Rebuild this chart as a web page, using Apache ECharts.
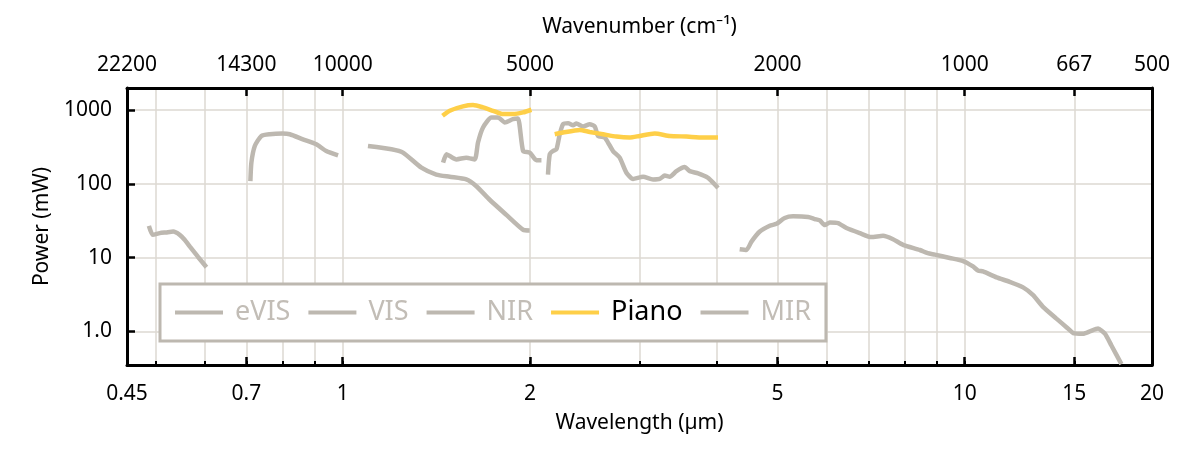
<!DOCTYPE html>
<html>
<head>
<meta charset="utf-8">
<script src="https://cdn.jsdelivr.net/npm/echarts@6/dist/echarts.min.js"></script>
<style>html,body{margin:0;padding:0;background:#fff;}#chart{width:1200px;height:450px;}</style>
</head>
<body>
<div id="chart"></div>
<script>
// ---- tick definitions ----
const wavelengthTicks = [0.45, 0.7, 1, 2, 5, 10, 15, 20];
const wavelengthLabels = ['0.45', '0.7', '1', '2', '5', '10', '15', '20'];
const wavenumberLabels = ['22200', '14300', '10000', '5000', '2000', '1000', '667', '500'];
const majorTicks = [0.7, 1, 2, 5, 10, 15];
const minorTicks = [0.5, 0.6, 0.7, 0.8, 0.9, 1, 2, 3, 4, 5, 6, 7, 8, 9, 10, 15];
const powerTicks = [1, 10, 100, 1000];
const powerLabels = ['1.0', '10', '100', '1000'];

// ---- data: [wavelength (µm), power (mW)] ----
const eVIS = [[0.488,27],[0.495,20.4],[0.508,21.5],[0.52,22],[0.534,22.6],[0.547,20.4],[0.557,17.5],[0.568,14.1],[0.585,10.3],[0.604,7.4]];
const VIS = [[0.7105,109],[0.7131,194],[0.7222,327],[0.740,448],[0.763,472],[0.80,482],[0.822,472],[0.863,403],[0.907,345],[0.941,279],[0.983,244]];
const NIR = [[1.098,327],[1.198,295],[1.25,266],[1.338,166],[1.414,134],[1.486,125],[1.58,115],[1.64,93],[1.723,61],[1.833,38],[1.95,23.9],[1.998,23.4]];
const NIRidler = [[1.450,194],[1.468,252],[1.486,239],[1.523,215],[1.580,227],[1.630,215],[1.650,364],[1.681,583],[1.734,797],[1.777,797],[1.822,682],[1.878,756],[1.913,773],[1.950,279],[1.998,266],[2.048,210],[2.087,210]];
const MIRsignal = [[2.138,134],[2.152,252],[2.178,279],[2.206,295],[2.233,472],[2.261,646],[2.303,666],[2.346,626],[2.375,660],[2.434,601],[2.495,646],[2.542,601],[2.573,448],[2.638,426],[2.670,364],[2.720,279],[2.788,227],[2.858,142],[2.929,117],[3.040,125],[3.154,115],[3.234,117],[3.294,130],[3.356,125],[3.440,149],[3.547,169],[3.614,149],[3.727,139],[3.867,121],[3.939,104],[4.012,88]];
const pianoA = [[1.447,839],[1.486,982],[1.561,1127],[1.620,1175],[1.681,1092],[1.744,982],[1.810,885],[1.878,885],[1.950,933],[2.011,1014]];
const pianoB = [[2.192,472],[2.261,498],[2.404,540],[2.495,507],[2.621,472],[2.754,439],[2.893,426],[3.002,448],[3.174,482],[3.356,448],[3.569,439],[3.797,426],[4.012,426]];
const MIR = [[4.347,13.0],[4.457,12.7],[4.541,16.5],[4.683,22.6],[4.859,27.1],[4.981,28.8],[5.136,34.5],[5.297,36.3],[5.600,35.6],[5.740,33.4],[5.848,32.0],[5.957,27.7],[6.067,30.0],[6.256,29.5],[6.453,25.2],[6.779,21.5],[7.079,19.0],[7.390,19.8],[7.668,17.8],[7.958,14.9],[8.469,12.7],[8.72,11.5],[8.95,11.0],[9.46,9.9],[9.94,9.0],[10.31,7.6],[10.50,6.7],[10.70,6.5],[11.25,5.4],[11.81,4.7],[12.41,3.95],[12.88,3.1],[13.36,2.15],[14.04,1.49],[14.57,1.14],[14.94,0.95],[15.50,0.93],[15.89,1.0],[16.38,1.09],[16.80,0.93],[17.21,0.644],[17.86,0.36]];

const GRAY = '#bdb8b0';
const YELLOW = '#fecf48';
const FONT = 'Noto Sans';

function labelFor(values, labels) {
  return function (v) {
    for (let i = 0; i < values.length; i++) {
      if (Math.abs(values[i] - v) < 1e-6 * values[i]) return labels[i];
    }
    return '';
  };
}

function lineSeries(name, data, color, z) {
  return {
    name: name, type: 'line', data: data, xAxisIndex: 0, yAxisIndex: 0,
    showSymbol: false, symbol: 'none', smooth: 0.2, connectNulls: false,
    color: color, lineStyle: { color: color, width: 4.5 }, z: z || 2,
    emphasis: { disabled: true }, animation: false
  };
}

const chart = echarts.init(document.getElementById('chart'), null, { renderer: 'canvas' });
const xCommon = { type: 'log', logBase: 10, min: 0.45, max: 20 };
const yCommon = { type: 'log', logBase: 10, min: 0.35, max: 2000 };

chart.setOption({
  animation: false,
  backgroundColor: '#fff',
  textStyle: { fontFamily: FONT },
  grid: { left: 127, right: 48, top: 88, bottom: 85, containLabel: false },
  xAxis: [
    Object.assign({}, xCommon, {
      position: 'bottom',
      name: 'Wavelength (µm)', nameLocation: 'middle', nameGap: 48,
      nameTextStyle: { fontSize: 21, color: '#000', fontFamily: FONT },
      axisLine: { show: true, lineStyle: { color: '#000', width: 3 } },
      axisTick: { show: true, inside: true, length: 4, customValues: minorTicks, lineStyle: { color: '#000', width: 2 } },
      splitLine: { show: true, lineStyle: { color: '#dcd8d2', width: 1.5 } },
      minorTick: { show: false }, minorSplitLine: { show: false },
      axisLabel: { show: true, customValues: wavelengthTicks, formatter: labelFor(wavelengthTicks, wavelengthLabels), fontSize: 21, color: '#000', margin: 19, fontFamily: FONT }
    }),
    Object.assign({}, xCommon, {
      position: 'bottom', offset: 0,
      axisLine: { show: false },
      axisTick: { show: true, inside: true, length: 8, customValues: majorTicks, lineStyle: { color: '#000', width: 2.5 } },
      splitLine: { show: false },
      axisLabel: { show: false }
    }),
    Object.assign({}, xCommon, {
      position: 'top',
      name: 'Wavenumber (cm⁻¹)', nameLocation: 'middle', nameGap: 50,
      nameTextStyle: { fontSize: 21, color: '#000', fontFamily: FONT },
      axisLine: { show: true, lineStyle: { color: '#000', width: 3 } },
      axisTick: { show: true, inside: true, length: 8, customValues: majorTicks, lineStyle: { color: '#000', width: 2.5 } },
      splitLine: { show: false },
      axisLabel: { show: true, customValues: wavelengthTicks, formatter: labelFor(wavelengthTicks, wavenumberLabels), fontSize: 21, color: '#000', margin: 12, fontFamily: FONT }
    })
  ],
  yAxis: [
    Object.assign({}, yCommon, {
      position: 'left',
      name: 'Power (mW)', nameLocation: 'middle', nameGap: 74, nameRotate: 90,
      nameTextStyle: { fontSize: 21, color: '#000', fontFamily: FONT },
      axisLine: { show: true, lineStyle: { color: '#000', width: 3 } },
      axisTick: { show: true, inside: true, length: 8, customValues: powerTicks, lineStyle: { color: '#000', width: 2.5 } },
      splitLine: { show: true, lineStyle: { color: '#dcd8d2', width: 1.5 } },
      axisLabel: { show: true, customValues: powerTicks, formatter: labelFor(powerTicks, powerLabels), fontSize: 21, color: '#000', margin: 15, fontFamily: FONT }
    }),
    Object.assign({}, yCommon, {
      position: 'right',
      axisLine: { show: true, lineStyle: { color: '#000', width: 3 } },
      axisTick: { show: false }, splitLine: { show: false }, axisLabel: { show: false }
    })
  ],
  legend: {
    left: 160, top: 284, orient: 'horizontal',
    icon: 'rect', itemWidth: 48, itemHeight: 4, itemGap: 18,
    padding: [15, 15, 15, 15],
    borderColor: GRAY, borderWidth: 3, backgroundColor: '#fff',
    selectedMode: false,
    textStyle: { fontSize: 27, color: '#c2bdb6', fontFamily: FONT, padding: [0, 0, 0, 7] },
    data: [
      { name: 'eVIS' }, { name: 'VIS' }, { name: 'NIR' },
      { name: 'Piano', textStyle: { color: '#000' } },
      { name: 'MIR' }
    ],
    z: 10
  },
  series: [
    lineSeries('eVIS', eVIS, GRAY),
    lineSeries('VIS', VIS, GRAY),
    lineSeries('NIR', NIR, GRAY),
    lineSeries('NIR idler', NIRidler, GRAY),
    lineSeries('MIR signal', MIRsignal, GRAY),
    lineSeries('Piano', pianoA.concat([[2.1, null]], pianoB), YELLOW, 3),
    lineSeries('MIR', MIR, GRAY)
  ]
});
</script>
</body>
</html>
